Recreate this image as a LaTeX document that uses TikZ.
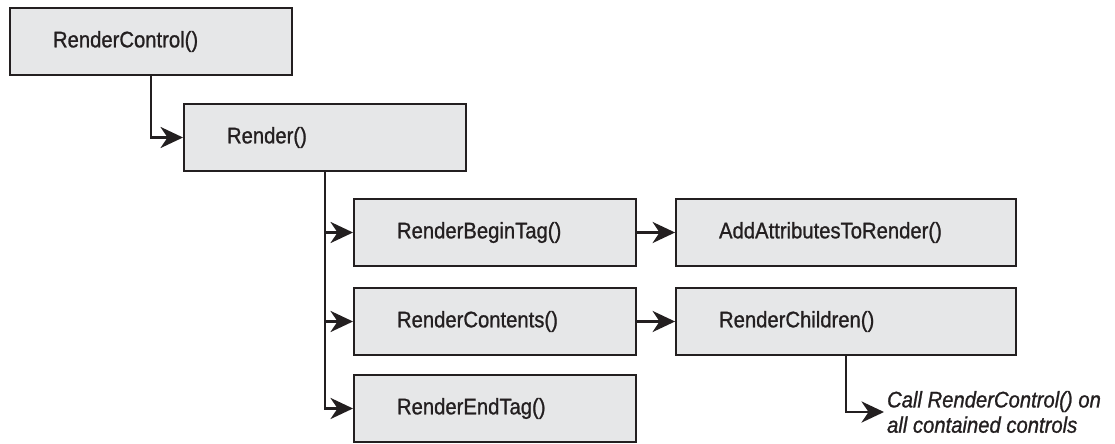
\documentclass[tikz,border=0pt]{standalone}
\usepackage{fontspec}
\setmainfont{Liberation Sans}[FakeStretch=0.9,FakeBold=1]
\usetikzlibrary{positioning,arrows.meta}
\definecolor{ink}{RGB}{35,31,32}
\definecolor{boxgray}{RGB}{230,231,232}
\tikzset{
  call/.style={draw=ink,line width=1.4pt,fill=boxgray,text=ink,anchor=north west,
               align=left,inner xsep=1.075cm,inner ysep=0pt,text width=4.9cm,
               minimum height=1.675cm,font=\fontsize{16}{18}\selectfont},
  widecall/.style={call,text width=6.35cm},
  arr/.style={-{Stealth[length=16pt,width=15pt,inset=5pt]},line width=1.8pt,draw=ink}
}

\begin{document}
\begin{tikzpicture}[x=0.025cm,y=-0.025cm,
  note/.style={anchor=west,align=left,inner sep=2pt,text=ink,
               font=\fontsize{16}{18}\selectfont\itshape}]
  \path[use as bounding box,clip] (0,0) rectangle (1115,443);
  \node[call] (rc) at (9,7) {RenderControl()};
  \node[call] (render) at (183,103) {Render()};
  \node[call] (begin) at (353,198) {RenderBeginTag()};
  \node[call,below=0.5cm of begin] (contents) {RenderContents()};
  \node[call,below=0.45cm of contents] (endtag) {RenderEndTag()};
  \node[widecall,right=0.95cm of begin] (addattr) {AddAttributesToRender()};
  \node[widecall,right=0.95cm of contents] (children) {RenderChildren()};
  \node[note] (calls) at (884,412) {Call RenderControl() on\\all contained controls};
  % calls
  \draw[arr] (rc.south) |- (render.west);
  \draw[arr] (render.south) |- (begin.west);
  \draw[arr] (render.south) |- (contents.west);
  \draw[arr] (render.south) |- (endtag.west);
  \draw[arr] (begin) -- (addattr);
  \draw[arr] (contents) -- (children);
  \draw[arr] (children.south) |- (calls.west);
\end{tikzpicture}
\end{document}
